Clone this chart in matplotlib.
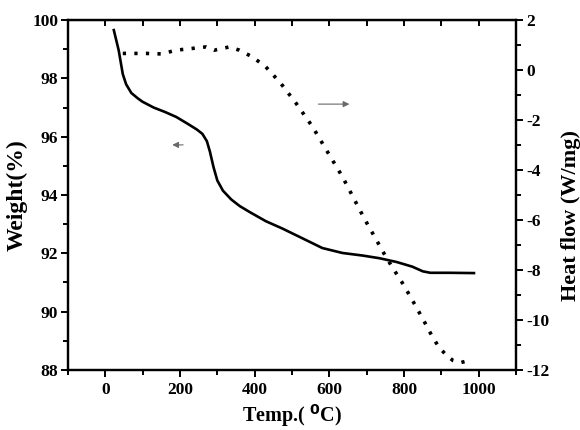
import matplotlib
matplotlib.use('Agg')
import matplotlib.pyplot as plt
from matplotlib.ticker import MultipleLocator

# weight loss curve (TGA)
temp_w = [23, 36, 47, 56, 70, 87, 100, 130, 160, 190, 220, 245, 260, 272, 280, 290,
          300, 315, 337, 360, 386, 430, 474, 530, 581, 635, 690, 734, 780, 822, 850,
          870, 920, 987]
weight = [99.66, 98.97, 98.15, 97.8, 97.5, 97.32, 97.2, 97.0, 96.85, 96.68, 96.45,
          96.25, 96.1, 95.85, 95.5, 94.95, 94.5, 94.15, 93.85, 93.62, 93.42, 93.1,
          92.85, 92.5, 92.18, 92.01, 91.92, 91.83, 91.7, 91.54, 91.38, 91.33, 91.33,
          91.32]

# heat flow curve (DSC)
temp_h = [47, 110, 150, 190, 270, 292, 332, 359, 394, 430, 470, 511, 555, 592, 635, 693,
          751, 773, 794, 814, 834, 854, 874, 892, 912, 931, 952, 972]
heat = [0.67, 0.67, 0.65, 0.8, 0.93, 0.8, 0.93, 0.8, 0.53, 0.13, -0.53, -1.33, -2.27,
        -3.2, -4.27, -5.93, -7.47, -8.0, -8.49, -9.0, -9.53, -10.07, -10.63, -11.07,
        -11.4, -11.63, -11.71, -11.63]

plt.rcParams['font.family'] = ['Liberation Serif', 'DejaVu Serif']
plt.rcParams['font.weight'] = 'bold'
plt.rcParams['axes.unicode_minus'] = False

fig = plt.figure(figsize=(5.8, 4.3), dpi=100)
ax = fig.add_axes([0.117, 0.14, 0.773, 0.813])
ax2 = ax.twinx()

ax.plot(temp_w, weight, color='black', lw=1.9)
ax2.plot(temp_h, heat, color='black', lw=2.6, linestyle=(0, (0.9, 2.3)))

ax.set_xlim(-100, 1100)
ax.set_ylim(88, 100)
ax2.set_ylim(-12, 2)

ax.xaxis.set_major_locator(MultipleLocator(200))
ax.xaxis.set_minor_locator(MultipleLocator(100))
ax.yaxis.set_major_locator(MultipleLocator(2))
ax.yaxis.set_minor_locator(MultipleLocator(1))
ax2.yaxis.set_major_locator(MultipleLocator(2))
ax2.yaxis.set_minor_locator(MultipleLocator(1))

for a in (ax, ax2):
    for s in a.spines.values():
        s.set_linewidth(1.6)
    a.tick_params(which='both', direction='out', width=1.4, labelsize=12.5, pad=2)
    a.tick_params(which='major', length=5)
    a.tick_params(which='minor', length=3.5)
ax.tick_params(axis='x', which='both', pad=4)

# top ticks point inward, all same length
top_ax = ax.secondary_xaxis('top')
top_ax.xaxis.set_major_locator(MultipleLocator(100))
top_ax.tick_params(direction='in', length=4, width=1.4, labeltop=False)

for lab in ax.get_xticklabels() + ax.get_yticklabels() + ax2.get_yticklabels():
    lab.set_fontweight('bold')

ax.set_xlabel('Temp.( $\\mathbf{^{0}}$C)', fontsize=14.5, fontweight='bold', labelpad=3)
ax.set_ylabel('Weight(%)', fontsize=17, fontweight='bold')
ax2.set_ylabel('Heat flow (W/mg)', fontsize=16, fontweight='bold')
ax.yaxis.set_label_coords(-0.09, 0.5)
ax2.yaxis.set_label_coords(1.1, 0.44)

# direction arrows
ax.annotate('', xy=(661, 97.12), xytext=(563, 97.12),
            arrowprops=dict(arrowstyle='-|>', color='dimgray', lw=0.8, mutation_scale=9))
ax.annotate('', xy=(172, 95.72), xytext=(216, 95.72),
            arrowprops=dict(arrowstyle='-|>', color='dimgray', lw=0.8, mutation_scale=9))

fig.savefig('out.png', dpi=100)
